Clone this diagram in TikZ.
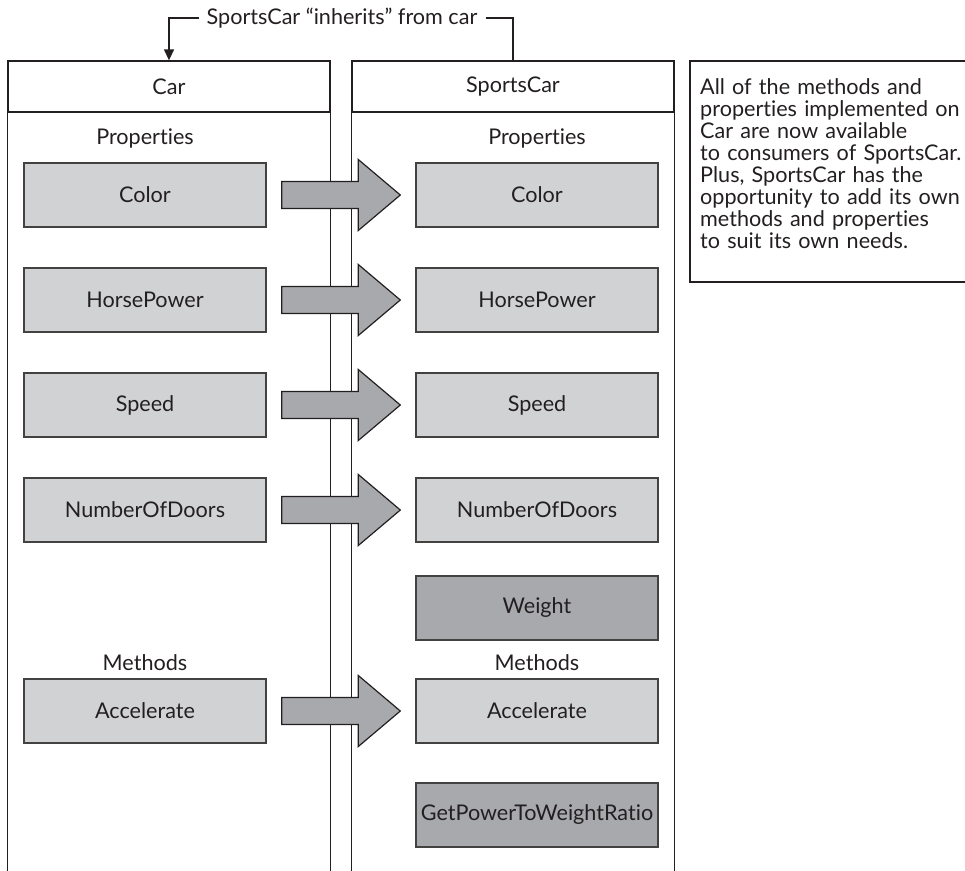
\documentclass[tikz,border=0pt]{standalone}
\usepackage{fontspec}
\setmainfont{Lato}[Ligatures={NoCommon}]
\usetikzlibrary{calc,arrows.meta}
\definecolor{ink}{HTML}{231F20}
\definecolor{lightbox}{HTML}{D1D2D4}
\definecolor{darkbox}{HTML}{A7A9AC}
\tikzset{
  base/.style={font=\fontsize{21.6}{22}\selectfont, text=ink},
  propbox/.style={base, draw=ink!85, line width=1.4pt, fill=lightbox, minimum width=242pt, minimum height=64pt, inner sep=0pt},
  newbox/.style={propbox, fill=darkbox},
  hdrbox/.style={base, draw=ink, line width=1.3pt, minimum width=322pt, minimum height=51pt, inner sep=0pt},
  colline/.style={draw=ink, line width=1.3pt},
  lbl/.style={base, inner sep=0pt},
  blockarr/.style={draw=ink, line width=1.2pt, fill=darkbox, line join=miter},
}
\newcommand\blkarrow[2]{%
  \draw[blockarr] ($(#1.east)+(15,13.5)$) -- ($(#2.west)+(-57,13.5)$) -- ($(#2.west)+(-57,35.5)$)
    -- ($(#2.west)+(-15,0)$) -- ($(#2.west)+(-57,-35.5)$) -- ($(#2.west)+(-57,-13.5)$)
    -- ($(#1.east)+(15,-13.5)$) -- cycle;}
\begin{document}
\begin{tikzpicture}[x=1pt,y=-1pt]
\useasboundingbox (0,0) rectangle (965,870);
\clip (0,0) rectangle (965,870);
% headers
\node[hdrbox] (carhdr) at (169,86.5) {Car};
\node[hdrbox] (sphdr) at (513,86.5) {SportsCar};
% column sides
\draw[colline] (carhdr.south west) -- ++(0,780);
\draw[colline] (carhdr.south east) -- ++(0,780);
\draw[colline] (sphdr.south west) -- ++(0,780);
\draw[colline] (sphdr.south east) -- ++(0,780);
% section labels
\node[lbl] (cprop) at (145,138) {Properties};
\node[lbl] (sprop) at (537,138) {Properties};
\node[lbl] (cmeth) at (145,663) {Methods};
\node[lbl] (smeth) at (537,663) {Methods};
% car boxes
\node[propbox] (c1) at (145,195) {Color};
\node[propbox] (c2) at (145,300) {HorsePower};
\node[propbox] (c3) at (145,405) {Speed};
\node[propbox] (c4) at (145,510) {NumberOfDoors};
\node[propbox] (c5) at (145,711) {Accelerate};
% sportscar boxes
\node[propbox] (s1) at (537,195) {Color};
\node[propbox] (s2) at (537,300) {HorsePower};
\node[propbox] (s3) at (537,405) {Speed};
\node[propbox] (s4) at (537,510) {NumberOfDoors};
\node[newbox] (s6) at (537,608) {Weight};
\node[propbox] (s5) at (537,711) {Accelerate};
\node[newbox] (s7) at (537,815) {GetPowerToWeightRatio};
% block arrows
\blkarrow{c1}{s1}
\blkarrow{c2}{s2}
\blkarrow{c3}{s3}
\blkarrow{c4}{s4}
\blkarrow{c5}{s5}
% inheritance label
\node[lbl, inner xsep=8pt] (inh) at (342,18) {SportsCar “inherits” from car};
\draw[colline, -{Triangle[length=11pt,width=10pt]}] (inh.west) -| (carhdr.north);
\draw[colline] (inh.east) -| (sphdr.north);
% note box
\draw[colline] (1000,61) -- (690,61) -- (690,282) -- (1000,282);
\node[lbl, anchor=north west, align=left, text width=300pt] (note) at (700,78) {All of the methods and\\
properties implemented on\\
Car are now available\\
to consumers of SportsCar.\\
Plus, SportsCar has the\\
opportunity to add its own\\
methods and properties\\
to suit its own needs.};
\end{tikzpicture}
\end{document}
